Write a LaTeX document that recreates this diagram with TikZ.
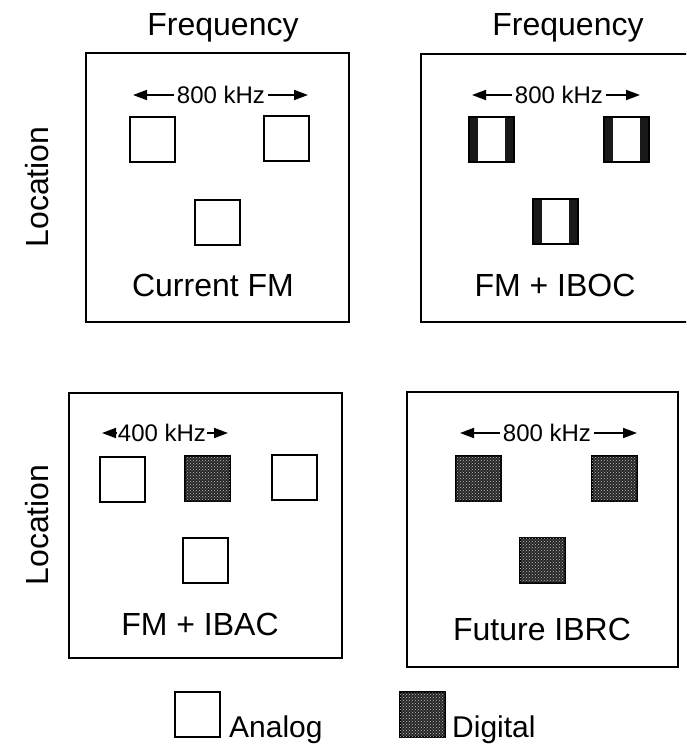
\documentclass[tikz,border=0pt]{standalone}
\usepackage{fontspec}
\setmainfont{Liberation Sans}
\usetikzlibrary{arrows.meta,patterns,positioning}

\begin{document}
\begin{tikzpicture}[x=1pt, y=-1pt,
  every node/.style = {inner sep=0pt},
  panel/.style = {draw, line width=2.2pt},
  ana/.style = {draw, line width=2pt, minimum size=45pt},
  digi/.style = {ana, fill=black!85,
    postaction={pattern=crosshatch dots, pattern color=white!75!black}},
  iboc/.style = {ana, path picture={
      \fill[black!90] (path picture bounding box.south west)
        rectangle ([xshift=9pt]path picture bounding box.north west);
      \fill[black!90] (path picture bounding box.north east)
        rectangle ([xshift=-9pt]path picture bounding box.south east);}},
  big/.style = {font=\fontsize{32}{36}\selectfont},
  keytext/.style = {font=\fontsize{30}{34}\selectfont},
  khz/.style = {font=\fontsize{24}{28}\selectfont, inner sep=3pt},
  widtharrow/.style = {line width=1.8pt, -{Triangle[length=14pt,width=10pt]}}]
  \clip (0,0) rectangle (686,744);

  % axis labels
  \node[big, anchor=base] (freqL) at (223,35) {Frequency};
  \node[big, anchor=base] (freqR) at (568,35) {Frequency};
  \node[big, rotate=90] (locTop) at (37,187) {Location};
  \node[big, rotate=90] (locBot) at (37,525) {Location};

  % current FM
  \node[panel, minimum width=263pt, minimum height=269pt] (curFM) at (217.5,187.5) {};
  \node[khz] (curW) at (221,95) {800 kHz};
  \coordinate (curL) at (133,95);
  \coordinate (curR) at (308,95);
  \draw[widtharrow] (curW) -- (curL);
  \draw[widtharrow] (curW) -- (curR);
  \node[ana] (cur1) at (152.5,139) {};
  \node[ana] (cur2) at (286.5,138.5) {};
  \node[ana] (cur3) at (217,222.5) {};
  \node[big, anchor=base] (curT) at (213,296) {Current FM};

  % FM + IBOC
  \node[panel, minimum width=279pt, minimum height=268pt] (ibocFM) at (560.5,188) {};
  \node[khz] (ibocW) at (559,95) {800 kHz};
  \coordinate (ibocL) at (472,95);
  \coordinate (ibocR) at (640,95);
  \draw[widtharrow] (ibocW) -- (ibocL);
  \draw[widtharrow] (ibocW) -- (ibocR);
  \node[iboc] (iboc1) at (491,139.5) {};
  \node[iboc] (iboc2) at (626,139.5) {};
  \node[iboc] (iboc3) at (555.5,221.5) {};
  \node[big, anchor=base] (ibocT) at (555,296) {FM + IBOC};

  % FM + IBAC
  \node[panel, minimum width=273pt, minimum height=265pt] (ibacFM) at (205.5,525.5) {};
  \node[khz, inner sep=1pt] (ibacW) at (162,433) {400 kHz};
  \coordinate (ibacL) at (102,433);
  \coordinate (ibacR) at (228,433);
  \draw[widtharrow] (ibacW) -- (ibacL);
  \draw[widtharrow] (ibacW) -- (ibacR);
  \node[ana] (ibac1) at (122,479) {};
  \node[digi] (ibac2) at (207.5,478.5) {};
  \node[ana] (ibac3) at (294,477.5) {};
  \node[ana] (ibac4) at (205.5,560) {};
  \node[big, anchor=base] (ibacT) at (200,635) {FM + IBAC};

  % future IBRC
  \node[panel, minimum width=271pt, minimum height=275pt] (ibrc) at (542.5,529.5) {};
  \node[khz] (ibrcW) at (547,433) {800 kHz};
  \coordinate (ibrcL) at (460,433);
  \coordinate (ibrcR) at (637,433);
  \draw[widtharrow] (ibrcW) -- (ibrcL);
  \draw[widtharrow] (ibrcW) -- (ibrcR);
  \node[digi] (ibrc1) at (478.5,478.5) {};
  \node[digi] (ibrc2) at (614,478.5) {};
  \node[digi] (ibrc3) at (542.5,560) {};
  \node[big, anchor=base] (ibrcT) at (542,640) {Future IBRC};

  % key
  \node[ana] (keyA) at (197.5,714.5) {};
  \node[keytext, anchor=base west] (keyAT) at (229,737) {Analog};
  \node[digi] (keyD) at (422,714.5) {};
  \node[keytext, anchor=base west] (keyDT) at (452,737) {Digital};
\end{tikzpicture}
\end{document}
